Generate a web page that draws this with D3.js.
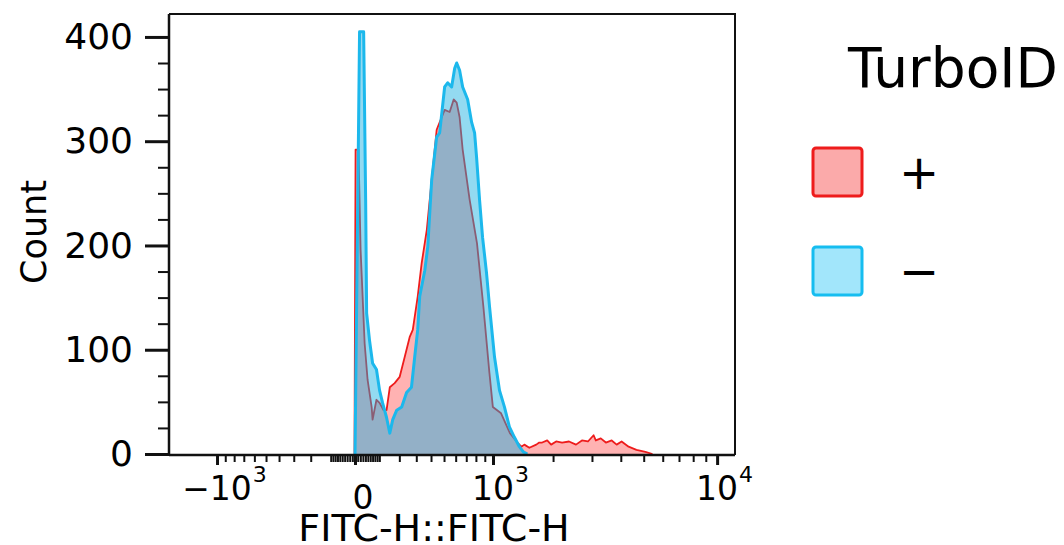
<!DOCTYPE html>
<html>
<head>
<meta charset="utf-8">
<script src="https://cdn.jsdelivr.net/npm/d3@7"></script>
<style>
  body { margin: 0; background: #fff; }
  text { font-family: "DejaVu Sans", Verdana, sans-serif; fill: #000; }
</style>
</head>
<body>
<svg id="chart" width="1064" height="545"></svg>
<script>
// TurboID + (red) histogram: FITC-H value, count
const plusValues = [-2, 2, 13, 21, 37, 49, 66, 70, 87, 101, 120, 134, 150, 175, 202, 230, 259, 278, 309, 335, 370, 405, 442, 465, 505, 547, 582, 609, 636, 665, 734, 812, 884, 955, 998, 1105, 1230, 1343, 1406, 1455, 1540, 1664, 1720, 1777, 1877, 1959, 2067, 2202, 2369, 2547, 2708, 2880, 3050, 3119, 3279, 3450, 3656, 3840, 4032, 4317, 4662, 5080, 5440];
const plusCounts = [0, 292, 292, 196, 106, 71, 45, 33, 52, 49, 42, 42, 64, 68, 74, 93, 112, 119, 151, 183, 215, 263, 311, 318, 330, 328, 340, 337, 323, 292, 244, 202, 141, 78, 45, 39, 20, 11, 7, 9, 6, 9, 11, 11, 13, 9, 12, 11, 12, 9, 13, 12, 18, 13, 15, 11, 13, 9, 12, 7, 4, 2, 0];

// TurboID - (blue) histogram
const minusValues = [0, 5, 17, 33, 41, 45, 57, 70, 87, 101, 115, 134, 150, 165, 186, 213, 241, 270, 290, 309, 322, 356, 377, 405, 442, 465, 505, 530, 564, 591, 609, 636, 665, 714, 755, 786, 807, 840, 874, 920, 957, 1019, 1084, 1152, 1222, 1297, 1374, 1438, 1506];
const minusCounts = [0, 119, 405, 405, 244, 135, 109, 87, 81, 61, 49, 35, 20, 33, 42, 45, 59, 64, 93, 119, 151, 176, 199, 263, 304, 308, 352, 356, 352, 370, 375, 368, 352, 340, 318, 308, 285, 244, 208, 174, 141, 93, 61, 45, 26, 16, 7, 2, 0];

const yTicks = [0, 100, 200, 300, 400];
const xMajor = [-1000, 0, 1000, 10000];
const xMajorBase = ["\u221210", "0", "10", "10"];
const xMajorSup = ["3", "", "3", "4"];
const legendLabels = ["+", "\u2212"];

const svg = d3.select("#chart");
const margin = { left: 169, right: 735, top: 14, bottom: 455 };

const x = d3.scaleSymlog().constant(413)
  .domain([-1755, 11800])
  .range([margin.left, margin.right]);
const y = d3.scaleLinear()
  .domain([0, 422])
  .range([454, margin.top]);

const area = d3.area()
  .x(d => x(d[0]))
  .y0(y(0))
  .y1(d => y(d[1]));
const line = d3.line()
  .x(d => x(d[0]))
  .y(d => y(d[1]));

const plus = plusValues.map((v, i) => [v, plusCounts[i]]);
const minus = minusValues.map((v, i) => [v, minusCounts[i]]);

svg.append("path").datum(plus)
  .attr("fill", "#ff0000").attr("fill-opacity", 0.3)
  .attr("d", area);
svg.append("path").datum(plus)
  .attr("fill", "none").attr("stroke", "#ee1c1c").attr("stroke-width", 1.8)
  .attr("stroke-linejoin", "round")
  .attr("d", line);
svg.append("path").datum(minus)
  .attr("fill", "#10aee0").attr("fill-opacity", 0.45)
  .attr("d", area);
svg.append("path").datum(minus)
  .attr("fill", "none").attr("stroke", "#1cb8ec").attr("stroke-width", 3)
  .attr("stroke-linejoin", "round")
  .attr("d", line);

// frame
svg.append("path")
  .attr("d", `M${margin.left},${margin.top}H${margin.right}V${margin.bottom}`)
  .attr("fill", "none").attr("stroke", "#111").attr("stroke-width", 2);

// y axis
const yMinor = d3.range(0, 401, 25).filter(v => v % 100 !== 0);
svg.append("g")
  .attr("transform", `translate(${margin.left},0)`)
  .call(d3.axisLeft(y).tickValues(yMinor).tickSize(11).tickFormat(""))
  .call(g => g.select(".domain").remove())
  .call(g => g.selectAll("line").attr("stroke", "#111").attr("stroke-width", 2));
svg.append("g")
  .attr("transform", `translate(${margin.left},0)`)
  .call(d3.axisLeft(y).tickValues(yTicks).tickSize(24).tickPadding(12))
  .call(g => g.select(".domain").attr("d", `M0,${margin.top}V${margin.bottom}`)
    .attr("stroke", "#111").attr("stroke-width", 2.5))
  .call(g => g.selectAll("line").attr("stroke", "#111").attr("stroke-width", 3))
  .call(g => g.selectAll("text").attr("font-size", 36)
    .attr("font-family", "DejaVu Sans, Verdana, sans-serif").attr("fill", "#000"));

// x axis
const xMinor = [];
[-1, 1].forEach(s => {
  for (let v = 10; v < 100; v += 10) xMinor.push(s * v);
  for (let v = 100; v < 1000; v += 100) xMinor.push(s * v);
});
for (let v = 2000; v < 10000; v += 1000) xMinor.push(v);

svg.append("g")
  .attr("transform", `translate(0,${margin.bottom})`)
  .call(d3.axisBottom(x).tickValues(xMinor).tickSize(7).tickFormat(""))
  .call(g => g.select(".domain").remove())
  .call(g => g.selectAll("line").attr("stroke", "#111").attr("stroke-width", 2));
svg.append("g")
  .attr("transform", `translate(0,${margin.bottom})`)
  .call(d3.axisBottom(x).tickValues(xMajor).tickSize(10).tickFormat(""))
  .call(g => g.select(".domain").attr("d", `M${margin.left},0H${margin.right}`)
    .attr("stroke", "#111").attr("stroke-width", 2.5))
  .call(g => g.selectAll("line").attr("stroke", "#111").attr("stroke-width", 3));

const xl = svg.append("g");
xMajor.forEach((v, i) => {
  const cx = x(v) + (xMajorSup[i] ? 0 : 8);
  const base = xl.append("text")
    .attr("x", cx)
    .attr("y", xMajorSup[i] ? 500 : 509)
    .attr("text-anchor", "middle")
    .attr("font-size", 33)
    .text(xMajorBase[i]);
  if (xMajorSup[i]) {
    const w = base.node().getComputedTextLength();
    xl.append("text")
      .attr("x", cx + w / 2 + 1)
      .attr("y", 482)
      .attr("font-size", 22)
      .text(xMajorSup[i]);
  }
});

// axis titles
svg.append("text")
  .attr("x", 434).attr("y", 541)
  .attr("text-anchor", "middle")
  .attr("font-size", 38)
  .text("FITC-H::FITC-H");
svg.append("text")
  .attr("transform", "translate(46,232) rotate(-90)")
  .attr("text-anchor", "middle")
  .attr("font-size", 35)
  .text("Count");

// legend
svg.append("text")
  .attr("x", 848).attr("y", 87)
  .attr("font-size", 55)
  .text("TurboID");
const legendFill = ["#fbaaaa", "#a2e6fb"];
const legendStroke = ["#ee1c1c", "#16bdf0"];
legendLabels.forEach((t, i) => {
  const ly = 148 + i * 99;
  svg.append("rect")
    .attr("x", 813).attr("y", ly).attr("width", 49).attr("height", 48)
    .attr("rx", 3)
    .attr("fill", legendFill[i]).attr("stroke", legendStroke[i]).attr("stroke-width", 3);
  svg.append("text")
    .attr("x", 899).attr("y", ly + 41)
    .attr("font-size", 48)
    .text(t);
});
</script>
</body>
</html>
